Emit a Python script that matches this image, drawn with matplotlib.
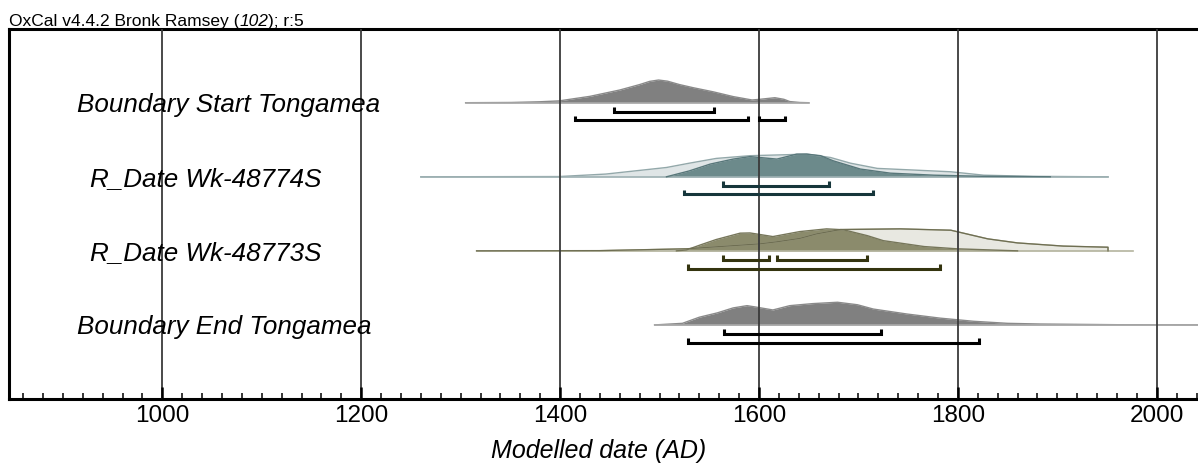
import numpy as np
import matplotlib.pyplot as plt
from matplotlib.ticker import MultipleLocator

plt.rcParams['font.family'] = ['Liberation Sans', 'DejaVu Sans']

names = ['Boundary Start Tongamea', 'R_Date Wk-48774S',
         'R_Date Wk-48773S', 'Boundary End Tongamea']

# Boundary Start (posterior only)
start_years = [1305, 1351, 1379, 1399, 1430, 1460, 1480, 1490, 1499, 1508,
               1520, 1534, 1554, 1574, 1593, 1601, 1616, 1625, 1631, 1641,
               1650]
start_prob = [0, 0.01, 0.04, 0.08, 0.28, 0.56, 0.8, 0.94, 1.0, 0.95,
              0.8, 0.66, 0.48, 0.27, 0.12, 0.15, 0.22, 0.15, 0.05, 0.01,
              0]

# Wk-48774S: unmodelled (prior) and modelled (posterior)
wk74_prior_years = [1260, 1399, 1446, 1507, 1530, 1557, 1591, 1625, 1648,
                    1672, 1692, 1719, 1759, 1793, 1826, 1876, 1927, 1951]
wk74_prior = [0, 0.01, 0.12, 0.41, 0.6, 0.81, 0.93, 0.97, 1.0,
              0.85, 0.6, 0.37, 0.29, 0.22, 0.07, 0.02, 0.005, 0]
wk74_post_years = [1507, 1530, 1551, 1574, 1591, 1618, 1638, 1648, 1662,
                   1675, 1702, 1732, 1776, 1826, 1893]
wk74_post = [0, 0.26, 0.56, 0.78, 0.89, 0.78, 1.0, 1.0, 0.93,
             0.7, 0.34, 0.16, 0.07, 0.02, 0]

# Wk-48773S: unmodelled (prior, cut at 1950) and modelled (posterior)
wk73_prior_years = [1316, 1440, 1527, 1601, 1618, 1641, 1658, 1682, 1742,
                    1793, 1830, 1860, 1906, 1951, 1951]
wk73_prior = [0, 0.01, 0.09, 0.31, 0.4, 0.55, 0.75, 0.94, 0.97,
              0.91, 0.53, 0.35, 0.21, 0.16, 0]
wk73_post_years = [1517, 1527, 1541, 1557, 1581, 1591, 1614, 1641, 1668,
                   1685, 1709, 1725, 1766, 1799, 1860]
wk73_post = [0, 0.04, 0.26, 0.5, 0.78, 0.79, 0.63, 0.85, 0.97,
             0.93, 0.67, 0.45, 0.19, 0.09, 0]

# Boundary End (posterior only)
end_years = [1495, 1523, 1540, 1558, 1574, 1588, 1598, 1614, 1631, 1654,
             1679, 1699, 1715, 1749, 1782, 1816, 1850, 1883, 1960, 2050]
end_prob = [0, 0.07, 0.34, 0.53, 0.75, 0.85, 0.78, 0.66, 0.85, 0.94,
            1.0, 0.89, 0.7, 0.48, 0.3, 0.16, 0.07, 0.04, 0.01, 0]

# highest posterior density ranges (68.3% and 95.4%)
hpd68 = [[(1454, 1555)],
         [(1564, 1670)],
         [(1564, 1610), (1618, 1709)],
         [(1565, 1723)]]
hpd95 = [[(1415, 1589), (1600, 1626)],
         [(1525, 1715)],
         [(1529, 1782)],
         [(1529, 1821)]]

label_x = [914, 927, 927, 914]
range_colors = ['black', '#16363b', '#34340f', 'black']

H = 0.306      # height of a full-scale distribution, in row units
CAP = 0.06


def draw_dist(ax, row, years, prob, fill, edge, base_color=None):
    x = np.asarray(years, dtype=float)
    top = row - H * np.asarray(prob)
    ax.fill_between(x, row, top, color=fill, lw=0, zorder=1)
    ax.plot(x, top, color=edge, lw=1, zorder=1.5)
    if base_color:
        ax.plot([x[0], x[-1]], [row, row], color=base_color, lw=1.2, zorder=1.5)


def draw_ranges(ax, ranges, y, color):
    for a, b in ranges:
        ax.plot([a, a, b, b], [y - CAP, y, y, y - CAP], color=color, lw=2.2,
                solid_joinstyle='miter', solid_capstyle='butt', zorder=3)


fig = plt.figure(figsize=(11.98, 4.64), dpi=100)
ax = fig.add_axes([9 / 1198, 1 - 400 / 464, 1 - 9 / 1198, 370 / 464])

draw_dist(ax, 0, start_years, start_prob, '#808080', '#8a8a8a', '#a9a9a9')

draw_dist(ax, 1, wk74_prior_years, wk74_prior, '#dfe5e6', '#93a8aa', '#9eb1b3')
draw_dist(ax, 1, wk74_post_years, wk74_post, '#6c8a8b', '#58777a')

draw_dist(ax, 2, wk73_prior_years, wk73_prior, '#e8e8e1', '#a9a991')
ax.plot([wk73_prior_years[0], 1976], [2, 2], color='#b4b49e', lw=1.2, zorder=1.5)
draw_dist(ax, 2, wk73_post_years, wk73_post, '#8b8b6c', '#76765a')
ax.plot(wk73_prior_years, 2 - H * np.asarray(wk73_prior), color='#6e6e52',
        lw=0.9, zorder=1.6)

draw_dist(ax, 3, end_years, end_prob, '#808080', '#8a8a8a', '#a9a9a9')

for i, name in enumerate(names):
    draw_ranges(ax, hpd68[i], i + 0.121, range_colors[i])
    draw_ranges(ax, hpd95[i], i + 0.239, range_colors[i])
    ax.text(label_x[i], i + 0.112, name, fontsize=18.7, style='italic',
            ha='left', va='baseline', zorder=4)

ax.set_xlim(845.8, 2041.5)
ax.set_ylim(4.0, -0.995)

ax.xaxis.set_major_locator(MultipleLocator(200))
ax.xaxis.set_minor_locator(MultipleLocator(20))
ax.tick_params(axis='x', which='major', direction='in', length=8.6, width=1.8,
               pad=3.6, labelsize=17.5)
ax.tick_params(axis='x', which='minor', direction='in', length=4.3, width=1.1)
ax.set_yticks([])
ax.grid(axis='x', which='major', color='#3a3a3a', lw=1.3)
ax.set_axisbelow(False)

for side in ['left', 'top', 'bottom']:
    ax.spines[side].set_linewidth(2.2)
ax.spines['right'].set_visible(False)

ax.set_xlabel('Modelled date (AD)', fontsize=18, style='italic', va='baseline')
ax.xaxis.set_label_coords((598.5 - 9) / 1189, -(458 - 400) / 370)

# header line, with the run number in italics
renderer = fig.canvas.get_renderer()
tx = 9 / 1198
for part, st in [('OxCal v4.4.2 Bronk Ramsey (', 'normal'), ('102', 'italic'),
                 ('); r:5', 'normal')]:
    t = fig.text(tx, 1 - 26 / 464, part, fontsize=12.5, style=st,
                 ha='left', va='baseline')
    tx = t.get_window_extent(renderer).x1 / fig.bbox.width

fig.savefig('out.png', dpi=100)
